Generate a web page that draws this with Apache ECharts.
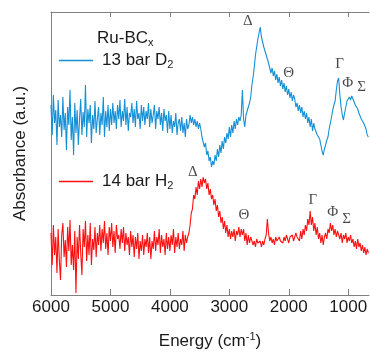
<!DOCTYPE html>
<html>
<head>
<meta charset="utf-8">
<script src="https://cdn.jsdelivr.net/npm/echarts@6/dist/echarts.min.js"></script>
<style>
html,body{margin:0;padding:0;background:#fff;}
#chart{width:370px;height:353px;}
</style>
</head>
<body>
<div id="chart"></div>
<script>
// Sampling grid of the spectra (cm^-1)
const energyStart = 6000;
const energyStep = 20;

// Upper spectrum: 13 bar D2 (arbitrary absorbance units)
const blueD2 = [
190,160,200,172,185,150,195,168,180,158,
198,165,182,145,188,170,205,155,178,140,
192,162,185,150,176,196,160,183,168,210,
158,186,172,190,152,180,166,194,162,176,
188,160,182,170,198,158,184,168,190,164,
186,170,192,172,184,166,190,176,195,168,
184,174,196,170,188,164,182,178,192,172,
186,168,194,176,182,166,190,174,188,170,
184,176,192,168,186,172,180,190,166,184,
176,188,170,182,164,186,174,180,162,184,
166,180,162,174,168,182,160,172,176,164,
178,162,172,158,176,166,170,
180,172,178,170,176,168,174,166,172,
166,158,160,148,152,140,144,134,138,128,134,
130,140,134,146,138,150,142,154,146,158,
152,162,156,168,158,170,162,174,166,176,
170,178,174,180,
205,
176,168,180,184,188,
192,198,210,218,228,240,248,256,262,
268,
258,260,248,250,240,238,232,
230,222,227,219,224,215,221,212,218,209,215,206,212,203,209,200,206,197,203,194,200,
196,188,192,184,190,182,188,178,184,
176,182,172,178,168,176,164,172,166,
165,160,162,156,
150,144,140,
146,150,155,
158,166,172,178,
185,190,194,
205,214,217,
200,188,180,
175,182,188,194,
192,198,195,199,
196,194,190,192,
186,182,184,
176,178,172,174,
166,160,158
];

// Lower spectrum: 14 bar H2
const redH2 = [
62,30,70,40,58,22,66,35,15,60,
72,38,55,28,68,44,75,30,50,25,
64,2,58,36,70,42,20,66,48,74,
34,60,40,72,30,56,45,68,38,62,
50,70,44,66,52,74,46,62,40,68,
54,72,48,64,42,70,56,60,46,66,
52,68,44,62,50,58,40,64,48,60,
38,58,46,62,36,54,44,60,40,56,
48,62,42,58,36,54,46,64,44,58,
50,66,42,60,48,56,40,62,46,58,
44,60,50,66,42,58,48,62,46,56,
50,64,44,60,52,58,62,
70,82,86,100,96,108,100,114,106,116,108,118,
112,
116,106,112,100,106,96,100,90,96,
84,90,78,84,72,78,66,74,62,70,58,
66,56,64,58,66,54,64,60,68,58,66,
60,66,54,62,50,60,52,58,
56,50,54,48,56,52,50,54,48,54,50,56,60,
76,
62,
54,58,52,56,50,58,54,52,58,54,56,52,58,
54,60,56,52,58,56,60,54,58,62,58,
60,54,64,56,66,60,70,
64,76,70,84,
70,78,64,72,60,
68,56,62,52,60,50,58,
62,56,66,62,72,64,
70,60,66,58,64,
64,56,62,52,60,56,62,52,58,54,60,52,
56,48,54,46,56,48,52,44,
50,42,48,40,46,42
];

const tickValues = [6000, 5000, 4000, 3000, 2000, 1000];

// Peak annotations
const peakLabels = ['Δ', 'Θ', 'Γ', 'Φ', 'Σ'];
const blueLabelE = [2689, 2000, 1143, 1008, 773];
const blueLabelV = [274, 222, 231, 212, 208];
const redLabelE = [3613, 2756, 1597, 1261, 1025];
const redLabelV = [123, 80, 95, 83, 76];

const BLUE = '#1590d6';
const RED = '#ff1010';
const AXIS = '#808080';
const TXT = '#1a1a1a';
const SANS = 'Liberation Sans';

function toPairs(arr) {
  return arr.map((v, i) => [energyStart - i * energyStep, v]);
}
function labelPairs(es, vs) {
  return es.map((e, i) => ({ value: [e, vs[i]], name: peakLabels[i] }));
}

const chart = echarts.init(document.getElementById('chart'), null, { renderer: 'canvas' });

const subRich = {
  sub: { fontSize: 11, lineHeight: 10, verticalAlign: 'bottom', fontFamily: SANS, color: TXT, fontWeight: 'normal' },
  m: { fontSize: 17, lineHeight: 20, fontFamily: SANS, color: TXT, fontWeight: 'normal' }
};

const xCommon = {
  type: 'value',
  min: 650,
  max: 6000,
  inverse: true,
  axisLine: { show: true, lineStyle: { color: AXIS, width: 1 } },
  splitLine: { show: false }
};

chart.setOption({
  animation: false,
  backgroundColor: '#fff',
  title: {
    text: '{m|Ru-BC}{sub|x}',
    left: 97,
    top: 28,
    padding: 0,
    textStyle: { fontWeight: 'normal', rich: subRich }
  },
  legend: [
    {
      data: ['D2'],
      left: 59,
      top: 52,
      padding: 0,
      icon: 'rect',
      itemWidth: 34,
      itemHeight: 1.6,
      formatter: () => '{m|13 bar D}{sub|2}',
      textStyle: { rich: subRich, padding: [0, 0, 0, 4] }
    },
    {
      data: ['H2'],
      left: 59,
      top: 173,
      padding: 0,
      icon: 'rect',
      itemWidth: 34,
      itemHeight: 1.6,
      formatter: () => '{m|14 bar H}{sub|2}',
      textStyle: { rich: subRich, padding: [0, 0, 0, 4] }
    }
  ],
  grid: { left: 51, right: 1, top: 12, bottom: 58, containLabel: false, outerBoundsMode: 'none' },
  xAxis: [
    Object.assign({}, xCommon, {
      position: 'bottom',
      name: '{m|Energy (cm}{sup|-1}{m|)}',
      nameLocation: 'middle',
      nameGap: 36,
      nameTextStyle: {
        rich: {
          m: { fontSize: 17, lineHeight: 20, fontFamily: SANS, color: TXT },
          sup: { fontSize: 11, lineHeight: 8, verticalAlign: 'top', fontFamily: SANS, color: TXT }
        }
      },
      axisTick: { show: true, inside: true, length: 6, customValues: tickValues, lineStyle: { color: AXIS } },
      axisLabel: {
        show: true,
        customValues: tickValues,
        formatter: v => String(v),
        margin: 4,
        fontSize: 17,
        fontFamily: SANS,
        color: TXT
      }
    }),
    Object.assign({}, xCommon, {
      position: 'top',
      axisTick: { show: true, inside: true, length: 5, customValues: tickValues, lineStyle: { color: AXIS } },
      axisLabel: { show: false }
    })
  ],
  yAxis: {
    type: 'value',
    min: 0,
    max: 283,
    name: 'Absorbance (a.u.)',
    nameLocation: 'middle',
    nameGap: 22,
    nameTextStyle: { fontSize: 17, fontFamily: SANS, color: TXT },
    axisLine: { show: true, lineStyle: { color: AXIS, width: 1 } },
    axisTick: { show: false },
    axisLabel: { show: false },
    splitLine: { show: false }
  },
  series: [
    {
      name: 'D2',
      type: 'line',
      data: toPairs(blueD2),
      showSymbol: false,
      symbol: 'none',
      lineStyle: { color: BLUE, width: 1.1 },
      itemStyle: { color: BLUE }
    },
    {
      name: 'H2',
      type: 'line',
      data: toPairs(redH2),
      showSymbol: false,
      symbol: 'none',
      lineStyle: { color: RED, width: 1.1 },
      itemStyle: { color: RED }
    },
    {
      name: 'blueLabels',
      type: 'scatter',
      data: labelPairs(blueLabelE, blueLabelV),
      symbolSize: 0,
      silent: true,
      label: {
        show: true,
        position: 'inside',
        formatter: p => p.name,
        fontFamily: 'Liberation Serif',
        fontSize: 15,
        color: TXT
      }
    },
    {
      name: 'redLabels',
      type: 'scatter',
      data: labelPairs(redLabelE, redLabelV),
      symbolSize: 0,
      silent: true,
      label: {
        show: true,
        position: 'inside',
        formatter: p => p.name,
        fontFamily: 'Liberation Serif',
        fontSize: 15,
        color: TXT
      }
    }
  ]
});
</script>
</body>
</html>
